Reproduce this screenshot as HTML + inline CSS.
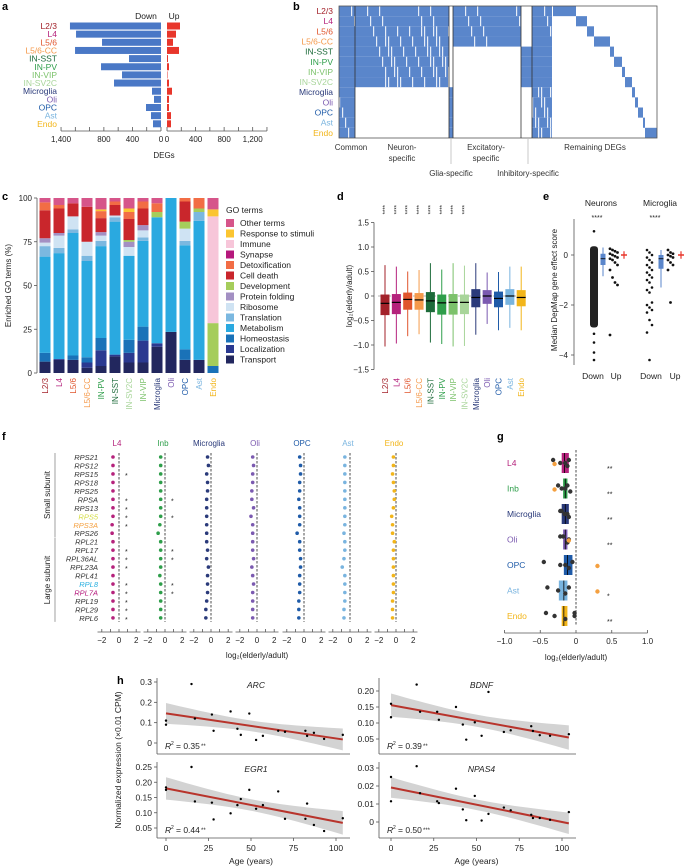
<!DOCTYPE html>
<html><head><meta charset="utf-8"><style>
html,body{margin:0;padding:0;background:#fff}
svg{display:block;font-family:"Liberation Sans",sans-serif}
</style></head><body>
<svg id="fig" width="685" height="867" viewBox="0 0 685 867"></svg>
<script>
// ---------- data ----------
const cellTypesA=['L2/3','L4','L5/6','L5/6-CC','IN-SST','IN-PV','IN-VIP','IN-SV2C','Microglia','Oli','OPC','Ast','Endo'];
const downDEGs=[1275,1190,826,1204,448,840,546,658,126,98,210,140,112];
const upDEGs=[182,126,84,168,14,28,7,28,70,28,28,56,56];
const degTicks=[1400,800,400,0];
const colorOf={'L2/3':'#a3212a','L4':'#b5227c','L5/6':'#e0552d','L5/6-CC':'#f59a4c','IN-SST':'#1d6b3a','IN-PV':'#2e9e4a','IN-VIP':'#7cc26b','IN-SV2C':'#a8d59a','Microglia':'#2a3a7a','Oli':'#7b5ab0','OPC':'#1f5ba8','Ast':'#79b4df','Endo':'#f2b51a','Inb':'#2e9e4a'};
const goCats=['L2/3','L4','L5/6','L5/6-CC','IN-PV','IN-SST','IN-SV2C','IN-VIP','Microglia','Oli','OPC','Ast','Endo'];
const goTerms=['Transport','Localization','Homeostasis','Metabolism','Translation','Ribosome','Protein folding','Development','Cell death','Detoxification','Synapse','Immune','Response to stimuli','Other terms'];
const goColors=['#22275e','#2a3990','#1a72b8','#2aa9e0','#7bb8e0','#cfe3f3','#a390c3','#a5cd5b','#c9262c','#f26d45','#b5187c','#f7c6d9','#fbc531','#d6558a'];
const goValues=[
[6.5,0,5,55,6,2,2.5,0,16,4.5,0,0,0,2.5],
[7.5,0.5,0,60.5,3,7,1.5,0,14,2,0,0,0,4],
[7.5,0,2.5,70,2,7.5,0,0,7.5,0,0,0,0,3],
[3,3,3,55,3,8,0,0,20,0,0,0,0,5],
[4,9,7,52.5,3,3,2,0,8,4,0,0,1,6.5],
[9.5,1,0,76,2.5,1,0,0,6,2,0,0,0,2],
[6,5.5,7.5,48,0,5,3,1,12,4,0,0,2,6],
[6,12.5,8,49,2,4,3,0,9.5,4,0,0,0,2],
[15,2,0,72,0,0,0,3,0,5,0,0,0,3],
[23.5,0,0,76.5,0,0,0,0,0,0,0,0,0,0],
[7.5,0,6,59.5,2.5,7,0,4,11.5,2,0,0,0,0],
[7.5,0,0,79.5,5,0,0,2,0,6,0,0,0,0],
[0,0,4,0,0,0,0,24.5,0,0,0,61,4,6.5]];
const goTicks=[0,25,50,75,100];
const boxMed=[-0.15,-0.13,-0.07,-0.08,-0.1,-0.14,-0.13,-0.13,-0.03,0,-0.05,0,-0.03];
const boxQ1=[-0.39,-0.37,-0.28,-0.28,-0.33,-0.38,-0.38,-0.37,-0.23,-0.16,-0.23,-0.18,-0.21];
const boxQ3=[0.03,0.04,0.07,0.06,0.08,0.03,0.04,0.03,0.14,0.12,0.09,0.14,0.12];
const boxLo=[-1.03,-0.97,-0.82,-0.78,-0.95,-0.98,-1.03,-1.02,-0.79,-0.57,-0.7,-0.65,-0.7];
const boxHi=[0.63,0.6,0.5,0.53,0.67,0.54,0.67,0.62,0.67,0.48,0.49,0.6,0.6];
const boxCats=['L2/3','L4','L5/6','L5/6-CC','IN-SST','IN-PV','IN-VIP','IN-SV2C','Microglia','Oli','OPC','Ast','Endo'];
const dTicks=[1.5,1.0,0.5,0,-0.5,-1.0,-1.5];
const eTicks=[0,-2,-4];
const neuDownOut=[0.95,-3.15,-3.5,-3.9,-4.2];
const neuUpVals=[0.25,0.2,0.15,0.1,0.05,0,-0.05,-0.1,-0.15,-0.2,-0.3,-0.4,-0.6,-0.9,-1.1,-1.2,-3.2];
const micDownVals=[0.2,0.1,0,-0.1,-0.2,-0.3,-0.4,-0.5,-0.6,-0.7,-0.8,-0.9,-1.0,-1.1,-1.3,-1.4,-1.5,-1.9,-2.0,-2.1,-2.2,-2.3,-2.6,-2.8,-3.1,-4.2];
const micUpVals=[0.2,0.1,0.05,0,-0.05,-0.1,-0.2,-0.3,-0.4,-0.6,-1.9];
const genes=['RPS21','RPS12','RPS15','RPS18','RPS25','RPSA','RPS13','RPS5','RPS3A','RPS26','RPL21','RPL17','RPL36AL','RPL23A','RPL41','RPL8','RPL7A','RPL19','RPL29','RPL6'];
const geneColor={'RPS5':'#d5de45','RPS3A':'#f4a040','RPL8':'#2ab0e0','RPL7A':'#b5187c'};
const fCols=['L4','Inb','Microglia','Oli','OPC','Ast','Endo'];
const fL4=[-0.7,-0.7,-0.7,-0.7,-0.7,-0.7,-0.7,-0.7,-0.8,-0.8,-0.7,-0.7,-0.7,-0.7,-0.7,-0.7,-0.7,-0.7,-0.7,-0.7];
const fInb=[-0.5,-0.5,-0.5,-0.5,-0.5,-0.5,-0.5,-0.5,-0.6,-0.8,-0.5,-0.5,-0.5,-0.5,-0.6,-0.5,-0.5,-0.5,-0.5,-0.5];
const fMic=[-0.4,-0.3,-0.5,-0.4,-0.4,-0.5,-0.5,-0.5,-0.5,-0.5,-0.5,-0.4,-0.5,-0.3,-0.4,-0.4,-0.4,-0.5,-0.6,-0.6];
const fOli=[-0.5,-0.4,-0.5,-0.5,-0.6,-0.6,-0.4,-0.7,-0.5,-0.5,-0.5,-0.5,-0.4,-0.6,-0.5,-0.4,-0.5,-0.5,-0.5,-0.5];
const fOPC=[-0.5,-0.4,-0.4,-0.5,-0.5,-0.6,-0.5,-0.5,-0.5,-0.8,-0.5,-0.5,-0.4,-0.4,-0.5,-0.5,-0.5,-0.6,-0.6,-0.6];
const fAst=[-0.6,-0.6,-0.6,-0.6,-0.6,-0.6,-0.6,-0.6,-0.6,-0.7,-0.6,-0.6,-0.7,-0.9,-0.6,-0.6,-0.6,-0.6,-0.7,-0.7];
const fEndo=[-0.3,-0.3,-0.4,-0.3,-0.2,-0.2,-0.3,-0.5,-0.4,-0.4,-0.2,-0.3,-0.3,-0.3,-0.3,-0.3,-0.3,-0.4,-0.4,-0.4];
const fStarsL4=[0,0,1,0,0,1,1,1,1,0,0,1,1,1,0,1,1,1,1,1];
const fStarsInb=[0,0,0,0,0,1,0,1,0,0,0,1,1,0,0,1,1,0,0,0];
const fTicks=[-2,0,2];
const gRows=['L4','Inb','Microglia','Oli','OPC','Ast','Endo'];
const gMed=[-0.16,-0.15,-0.15,-0.15,-0.12,-0.17,-0.17];
const gLo=[-0.2,-0.18,-0.2,-0.18,-0.17,-0.24,-0.2];
const gHi=[-0.1,-0.12,-0.1,-0.12,-0.05,-0.12,-0.12];
const gDots=[[-0.32,-0.22,-0.12,-0.1,-0.15],[-0.25,-0.15,-0.08,-0.12,-0.2],[-0.2,-0.12,-0.1,-0.22,-0.16],[-0.22,-0.1,-0.12,-0.18],[-0.45,-0.22,-0.1,-0.05,-0.15],[-0.4,-0.25,-0.15,-0.1],[-0.42,-0.3,-0.15,-0.02,-0.02]];
const gOrange=[-0.3,-0.3,null,-0.1,0.3,0.3,null];
const gStars=['**','**','**','**','','*','**'];
const gTicks=[-1.0,-0.5,0,0.5,1.0];
const ages=[0,0,15,17,27,28,38,42,44,49,53,57,66,70,82,83,87,93,104];
const arcVals=[0.11,0.09,0.29,0.12,0.14,0.06,0.155,0.07,0.04,0.145,0.015,0.035,0.06,0.055,0.06,0.035,0.05,0.02,0.04];
const bdnfVals=[0.16,0.118,0.22,0.135,0.135,0.11,0.15,0.095,0.048,0.102,0.06,0.197,0.072,0.077,0.09,0.075,0.062,0.06,0.065];
const egr1Vals=[0.183,0.175,0.25,0.137,0.133,0.078,0.098,0.125,0.145,0.175,0.113,0.125,0.17,0.08,0.08,0.13,0.06,0.04,0.082];
const npas4Vals=[0.025,0.0115,0.031,0.016,0.0115,0.0105,0.0185,0.007,0.001,0.0145,0.0008,0.0045,0.008,0.0065,0.004,0.0022,0.0022,0.0012,0.0055];
const ageTicks=[0,25,50,75,100];

// ---------- helpers ----------
const NS='http://www.w3.org/2000/svg';
const svg=document.getElementById('fig');
function mk(tag,attrs,parent){const e=document.createElementNS(NS,tag);for(const k in attrs)e.setAttribute(k,attrs[k]);(parent||svg).appendChild(e);return e;}
function nm(el,n){


return el;}
function tx(s,x,y,o,p){const e=mk('text',Object.assign({x:x,y:y,'font-size':8,fill:'#222'},o||{}),p);e.textContent=s;return e;}
function ln(x1,y1,x2,y2,o,p){return mk('line',Object.assign({x1,y1,x2,y2,stroke:'#555','stroke-width':0.8},o||{}),p);}
function grp(n){const g=mk('g',{});nm(g,n);return g;}

// panel letters
[['a',2,10],['b',293,10],['c',2,200],['d',337,200],['e',543,200],['f',2,440],['g',497,440],['h',117,684]].forEach(l=>{
 const t=tx(l[0],l[1],l[2],{'font-size':11,'font-weight':'bold',fill:'#000'});
 nm(t,'panel-label-'+l[0]);
});

// ---------- panel a ----------
(function(){
 const g=grp('panel-a-deg-bars');
 const xd=v=>161-v*0.0714, xu=v=>167+v*0.0714, ry=i=>26+i*8.15;
 cellTypesA.forEach((c,i)=>{
  const lab=tx(c,57,ry(i)+3,{'text-anchor':'end','font-size':8.5,fill:colorOf[c]},g);
  nm(lab,'row-label-'+c);
  const b=mk('rect',{x:xd(downDEGs[i]),y:ry(i)-3.5,width:downDEGs[i]*0.0714,height:7,fill:'#4a78c6'},g);
  nm(b,'down-bar-'+c);
  const u=mk('rect',{x:xu(0),y:ry(i)-3.5,width:upDEGs[i]*0.0714,height:7,fill:'#e8362b'},g);
  nm(u,'up-bar-'+c);
 });
 nm(ln(xd(1400),131,xd(0),131,{},g),'x-axis-down');
 nm(ln(xu(0),131,xu(1400),131,{},g),'x-axis-up');
 for(let v=0;v<=1400;v+=200){nm(ln(xd(v),131,xd(v),127,{},g),'tick');nm(ln(xu(v),131,xu(v),127,{},g),'tick');}
 degTicks.forEach(v=>{nm(tx(v.toLocaleString('en-US'),xd(v),142,{'text-anchor':'middle'},g),'tick-label');});
 [0,400,800,1200].forEach(v=>{nm(tx(v.toLocaleString('en-US'),xu(v),142,{'text-anchor':'middle'},g),'tick-label');});
 nm(tx('DEGs',164,158,{'text-anchor':'middle'},g),'x-axis-title');
 nm(tx('Down',146,19,{'text-anchor':'middle','font-size':8.5},g),'down-header');
 nm(tx('Up',174,19,{'text-anchor':'middle','font-size':8.5},g),'up-header');
})();

// ---------- panel b heatmap ----------
const bSections=[['Common',339,355],['Neuron',355,449],['Glia',449,453],['Excit',453,521],['Inhib',521,532],['RemainL',532,552]];
const bRowsOn={Common:[0,1,2,3,4,5,6,7,8,9,10,11,12],Neuron:[0,1,2,3,4,5,6,7],Glia:[8,9,10,11,12],Excit:[0,1,2,3],Inhib:[4,5,6,7],RemainL:[0,1,2,3,4,5,6,7,8,9,10,11,12]};
const stairStart=[553,576,587,594,610,614,622,625,632,635,638,643,645];
const stairEnd=[576,587,594,610,614,622,625,632,635,638,643,645,657];
(function(){
 const g=grp('panel-b-heatmap');
 const ry=i=>6+i*10.15;
 cellTypesA.forEach((c,i)=>{nm(tx(c,333,ry(i)+8,{'text-anchor':'end','font-size':8.5,fill:colorOf[c]},g),'row-label-'+c);});
 bSections.forEach(s=>{
  bRowsOn[s[0]].forEach(r=>{
   nm(mk('rect',{x:s[1],y:ry(r),width:s[2]-s[1],height:10.15,fill:'#5a86cb'},g),'cell-'+s[0]+'-'+r);
   const w=s[2]-s[1];
   if(w>10){for(let k=0;k<w;k+=3){const f=((k*7+r*13)%17);
     const thr=(s[0]==='Neuron'&&r>1&&k>w*0.3)?10:(s[0]==='RemainL'&&r>7?8:14);
     if(f>thr){nm(mk('rect',{x:s[1]+k,y:ry(r),width:1.2,height:10.15,fill:'#fff',opacity:0.85},g),'streak');}}}
  });
 });
 stairStart.forEach((x0,r)=>{nm(mk('rect',{x:x0,y:ry(r),width:stairEnd[r]-x0,height:10.15,fill:'#5a86cb'},g),'stair-'+r);});
 nm(mk('rect',{x:339,y:6,width:318,height:132,fill:'none',stroke:'#555','stroke-width':0.8},g),'heatmap-frame');
 [355,449,453,521,532].forEach(x=>nm(ln(x,6,x,138,{stroke:'#333'},g),'section-divider'));
 nm(ln(451,138,451,164,{stroke:'#bbb'},g),'glia-connector');
 nm(ln(528,138,528,164,{stroke:'#bbb'},g),'inhib-connector');
 const o={'text-anchor':'middle','font-size':8,fill:'#333'};
 nm(tx('Common',351,150,o,g),'label-common');
 nm(tx('Neuron-',402,150,o,g),'label-neuron');nm(tx('specific',402,161,o,g),'label-neuron2');
 nm(tx('Excitatory-',486,150,o,g),'label-excit');nm(tx('specific',486,161,o,g),'label-excit2');
 nm(tx('Remaining DEGs',595,150,o,g),'label-remaining');
 nm(tx('Glia-specific',451,176,o,g),'label-glia');
 nm(tx('Inhibitory-specific',528,176,o,g),'label-inhib');
})();

// ---------- panel c ----------
(function(){
 const g=grp('panel-c-go-stacked-bars');
 const y=v=>373-v*1.75, bx=i=>45+i*14;
 nm(ln(37,y(0),37,y(100),{},g),'y-axis');
 goTicks.forEach(v=>{nm(ln(34,y(v),37,y(v),{},g),'tick');nm(tx(v,32,y(v)+3,{'text-anchor':'end'},g),'tick-label');});
 const t=tx('Enriched GO terms (%)',11,y(50),{'text-anchor':'middle',transform:'rotate(-90 11 '+y(50)+')'},g);nm(t,'y-axis-title');
 goCats.forEach((c,i)=>{
  let acc=0;
  goValues[i].forEach((v,k)=>{if(v>0){nm(mk('rect',{x:bx(i)-5.5,y:y(acc+v),width:11,height:v*1.75,fill:goColors[k]},g),'seg-'+c+'-'+goTerms[k]);}acc+=v;});
  const l=tx(c,bx(i)+3,378,{'text-anchor':'end','font-size':8,fill:colorOf[c],transform:'rotate(-90 '+(bx(i)+3)+' 378)'},g);nm(l,'x-label-'+c);
 });
 nm(tx('GO terms',226,213,{'font-size':8.5},g),'legend-title');
 for(let k=goTerms.length-1,j=0;k>=0;k--,j++){
  nm(mk('rect',{x:226,y:219+j*10.5,width:8,height:8,fill:goColors[k]},g),'legend-swatch-'+goTerms[k]);
  nm(tx(goTerms[k],240,226+j*10.5,{'font-size':8.5},g),'legend-entry-'+goTerms[k]);
 }
})();

// ---------- panel d ----------
(function(){
 const g=grp('panel-d-boxplots');
 const y=v=>296-v*49, bx=i=>385+i*11.35;
 nm(ln(374,y(1.5),374,y(-1.5),{},g),'y-axis');
 dTicks.forEach(v=>{nm(ln(371,y(v),374,y(v),{},g),'tick');nm(tx(v===0?'0':(v<0?'\u2212'+Math.abs(v).toFixed(1):v.toFixed(1)),369,y(v)+3,{'text-anchor':'end'},g),'tick-label');});
 const yt=tx('log\u2082(elderly/adult)',352,y(0),{'text-anchor':'middle',transform:'rotate(-90 352 '+y(0)+')'},g);nm(yt,'y-axis-title');
 nm(ln(378,y(0),528,y(0),{stroke:'#999','stroke-dasharray':'3,2'},g),'zero-line');
 boxCats.forEach((c,i)=>{
  const col=colorOf[c];
  nm(ln(bx(i),y(boxHi[i]),bx(i),y(boxLo[i]),{stroke:col,'stroke-width':1},g),'whisker-'+c);
  nm(mk('rect',{x:bx(i)-4.5,y:y(boxQ3[i]),width:9,height:y(boxQ1[i])-y(boxQ3[i]),fill:col},g),'box-'+c);
  nm(ln(bx(i)-4.5,y(boxMed[i]),bx(i)+4.5,y(boxMed[i]),{stroke:'#000','stroke-width':1.2},g),'median-'+c);
  nm(tx(c,bx(i)+3,378,{'text-anchor':'end','font-size':8,fill:col,transform:'rotate(-90 '+(bx(i)+3)+' 378)'},g),'x-label-'+c);
  if(i<8)nm(tx('****',bx(i)+2,205,{'text-anchor':'end','font-size':6,transform:'rotate(-90 '+(bx(i)+2)+' 205)'},g),'sig-'+c);
 });
})();

// ---------- panel e ----------
(function(){
 const g=grp('panel-e-depmap');
 const y=v=>255-v*25;
 nm(ln(574,219,574,365,{},g),'y-axis');
 eTicks.forEach(v=>{nm(ln(571,y(v),574,y(v),{},g),'tick');nm(tx(v<0?'\u2212'+(-v):v,568,y(v)+3,{'text-anchor':'end'},g),'tick-label');});
 nm(tx('Median DepMap gene effect score',557,290,{'text-anchor':'middle',transform:'rotate(-90 557 290)'},g),'y-axis-title');
 nm(tx('Neurons',601,206,{'text-anchor':'middle','font-size':8.5},g),'group-neurons');
 nm(tx('Microglia',660,206,{'text-anchor':'middle','font-size':8.5},g),'group-microglia');
 nm(tx('****',597,220,{'text-anchor':'middle','font-size':7},g),'sig-neurons');
 nm(tx('****',655,220,{'text-anchor':'middle','font-size':7},g),'sig-microglia');
 nm(mk('rect',{x:590,y:y(0.35),width:8,height:y(-2.9)-y(0.35),rx:3,fill:'#222'},g),'neuron-down-dense');
 neuDownOut.forEach(v=>nm(mk('circle',{cx:594,cy:y(v),r:1.3,fill:'#111'},g),'neuron-down-dot'));
 neuUpVals.forEach((v,i)=>nm(mk('circle',{cx:610+(i%4)*2.5,cy:y(v),r:1.4,fill:'#111'},g),'neuron-up-dot'));
 micDownVals.forEach((v,i)=>nm(mk('circle',{cx:647+(i%3)*2.5,cy:y(v),r:1.3,fill:'#111'},g),'microglia-down-dot'));
 micUpVals.forEach((v,i)=>nm(mk('circle',{cx:668+(i%3)*2.5,cy:y(v),r:1.4,fill:'#111'},g),'microglia-up-dot'));
 [[603,0.3,-0.85,-0.4,0.05,-0.15],[661,0.2,-1.3,-0.55,0,-0.15]].forEach((b,i)=>{
  nm(ln(b[0],y(b[1]),b[0],y(b[2]),{stroke:'#5a86cb','stroke-width':1},g),'e-whisker');
  nm(mk('rect',{x:b[0]-2.5,y:y(b[4]),width:5,height:y(b[3])-y(b[4]),fill:'#5a86cb'},g),'e-box');
  nm(ln(b[0]-2.5,y(b[5]),b[0]+2.5,y(b[5]),{stroke:'#000'},g),'e-median');
 });
 [624,681].forEach(x=>{nm(ln(x-3,y(0),x+3,y(0),{stroke:'#e8362b','stroke-width':1.5},g),'up-median');nm(ln(x,y(0.15),x,y(-0.15),{stroke:'#e8362b','stroke-width':1.2},g),'up-range');});
 nm(tx('Down',593,379,{'text-anchor':'middle','font-size':8.5},g),'label-down');
 nm(tx('Up',616,379,{'text-anchor':'middle','font-size':8.5},g),'label-up');
 nm(tx('Down',651,379,{'text-anchor':'middle','font-size':8.5},g),'label-down2');
 nm(tx('Up',675,379,{'text-anchor':'middle','font-size':8.5},g),'label-up2');
})();

// ---------- panel f ----------
(function(){
 const g=grp('panel-f-ribosomal');
 const ry=i=>457+i*8.47;
 const zero=[119,165,211,257,304,350,396];
 const vals=[fL4,fInb,fMic,fOli,fOPC,fAst,fEndo];
 genes.forEach((gn,i)=>nm(tx(gn,98,ry(i)+3,{'text-anchor':'end','font-size':7.5,'font-style':'italic',fill:geneColor[gn]||'#333'},g),'gene-'+gn));
 nm(ln(55,ry(0)-4,55,ry(9)+4,{stroke:'#888'},g),'small-bracket');
 nm(ln(55,ry(10)-4,55,ry(19)+4,{stroke:'#888'},g),'large-bracket');
 nm(tx('Small subunit',50,495,{'text-anchor':'middle','font-size':8,transform:'rotate(-90 50 495)'},g),'small-subunit-label');
 nm(tx('Large subunit',50,580,{'text-anchor':'middle','font-size':8,transform:'rotate(-90 50 580)'},g),'large-subunit-label');
 fCols.forEach((c,j)=>{
  const x=v=>zero[j]+v*8.6;
  nm(tx(c,zero[j]-2,446,{'text-anchor':'middle','font-size':8,fill:colorOf[c]},g),'col-'+c);
  nm(ln(x(0),ry(0)-4,x(0),ry(19)+4,{stroke:'#222','stroke-dasharray':'2.5,1.5'},g),'zero-line-'+c);
  vals[j].forEach((v,i)=>nm(mk('circle',{cx:x(v),cy:ry(i),r:1.8,fill:colorOf[c]},g),'dot-'+c+'-'+genes[i]));
  nm(ln(x(-2.5),632,x(2.5),632,{},g),'x-axis-'+c);
  for(let t=-2;t<=2;t++)nm(ln(x(t),632,x(t),629,{},g),'tick');
  fTicks.forEach(t=>nm(tx(t<0?'\u2212'+(-t):t,x(t),643,{'text-anchor':'middle'},g),'tick-label'));
 });
 genes.forEach((gn,i)=>{
  if(fStarsL4[i])nm(tx('*',125,ry(i)+4,{'font-size':7},g),'star-L4');
  if(fStarsInb[i])nm(tx('*',171,ry(i)+4,{'font-size':7},g),'star-Inb');
 });
 nm(tx('log\u2082(elderly/adult)',257,658,{'text-anchor':'middle'},g),'x-axis-title');
})();

// ---------- panel g ----------
(function(){
 const g=grp('panel-g-summary');
 const x=v=>576+v*71.5, ry=i=>463+i*25.5;
 nm(ln(x(0),450,x(0),626,{stroke:'#222','stroke-dasharray':'2.5,1.5'},g),'zero-line');
 gRows.forEach((c,i)=>{
  nm(tx(c,507,ry(i)+3,{'font-size':8.5,fill:colorOf[c]},g),'row-label-'+c);
  nm(mk('rect',{x:x(gLo[i]),y:ry(i)-10,width:x(gHi[i])-x(gLo[i]),height:20,fill:colorOf[c]},g),'box-'+c);
  nm(ln(x(gMed[i]),ry(i)-10,x(gMed[i]),ry(i)+10,{stroke:'#000'},g),'median-'+c);
  gDots[i].forEach((v,k)=>nm(mk('circle',{cx:x(v),cy:ry(i)+((k%3)-1)*3,r:2.2,fill:'#333'},g),'dot-'+c));
  if(gOrange[i]!==null)nm(mk('circle',{cx:x(gOrange[i]),cy:ry(i)+1,r:2.2,fill:'#f4a040'},g),'orange-dot-'+c);
  if(gStars[i])nm(tx(gStars[i],607,ry(i)+8,{'font-size':7},g),'sig-'+c);
 });
 nm(ln(x(-1),633,x(1),633,{},g),'x-axis');
 gTicks.forEach(t=>{nm(ln(x(t),633,x(t),630,{},g),'tick');nm(tx(t===0?'0':(t<0?'\u2212'+(-t).toFixed(1):t.toFixed(1)),x(t),644,{'text-anchor':'middle'},g),'tick-label');});
 nm(tx('log\u2082(elderly/adult)',576,660,{'text-anchor':'middle'},g),'x-axis-title');
})();

// ---------- panel h ----------
const hPlots=[
 {name:'ARC',vals:arcVals,ax:157,x0:166,x100:336,right:350,top:678,bottom:754,v0:0,v1:0.3,y0:743,y1:682,ticks:[0,0.1,0.2,0.3],dec:1,r2:'0.35',sig:'**',ty:685,ry:747},
 {name:'BDNF',vals:bdnfVals,ax:379,x0:391,x100:562,right:576,top:678,bottom:754,v0:0.05,v1:0.2,y0:739,y1:691,ticks:[0.05,0.10,0.15,0.20],dec:2,r2:'0.39',sig:'**',ty:685,ry:747},
 {name:'EGR1',vals:egr1Vals,ax:157,x0:166,x100:336,right:350,top:762,bottom:838,v0:0.05,v1:0.25,y0:828,y1:767,ticks:[0.05,0.10,0.15,0.20,0.25],dec:2,r2:'0.44',sig:'**',ty:769,ry:831},
 {name:'NPAS4',vals:npas4Vals,ax:379,x0:391,x100:562,right:576,top:762,bottom:838,v0:0,v1:0.03,y0:822,y1:768,ticks:[0,0.01,0.02,0.03],dec:2,r2:'0.50',sig:'***',ty:769,ry:831}];
hPlots.forEach(p=>{
 const g=grp('panel-h-'+p.name);
 const X=a=>p.x0+a*(p.x100-p.x0)/100, Y=v=>p.y0+(v-p.v0)*(p.y1-p.y0)/(p.v1-p.v0);
 const n=ages.length;let mx=0,my=0;ages.forEach((a,i)=>{mx+=a;my+=p.vals[i];});mx/=n;my/=n;
 let sxx=0,sxy=0;ages.forEach((a,i)=>{sxx+=(a-mx)**2;sxy+=(a-mx)*(p.vals[i]-my);});
 const b=sxy/sxx,a0=my-b*mx;let sse=0;ages.forEach((a,i)=>{sse+=(p.vals[i]-a0-b*a)**2;});
 const s=Math.sqrt(sse/(n-2));
 const up=[],lo=[];for(let a=0;a<=104;a+=4){const h=2.1*s*Math.sqrt(1/n+(a-mx)**2/sxx);up.push(X(a)+','+Y(a0+b*a+h));lo.unshift(X(a)+','+Y(a0+b*a-h));}
 nm(mk('polygon',{points:up.concat(lo).join(' '),fill:'#d3d3d3'},g),'confidence-band');
 nm(ln(X(0),Y(a0),X(104),Y(a0+b*104),{stroke:'#b8342c','stroke-width':2},g),'regression-line');
 ages.forEach((a,i)=>nm(mk('circle',{cx:X(a),cy:Y(p.vals[i]),r:1.2,fill:'#000'},g),'point'));
 nm(ln(p.ax,p.top,p.ax,p.bottom,{},g),'y-axis');
 nm(ln(p.ax,p.bottom,p.right,p.bottom,{},g),'x-axis');
 p.ticks.forEach(v=>{nm(ln(p.ax-3,Y(v),p.ax,Y(v),{},g),'tick');nm(tx(v===0?'0':v.toFixed(p.dec),p.ax-5,Y(v)+3,{'text-anchor':'end','font-size':8.5},g),'tick-label');});
 if(p.bottom===838){ageTicks.forEach(t=>{nm(ln(X(t),838,X(t),841,{},g),'tick');nm(tx(t,X(t),851,{'text-anchor':'middle','font-size':8.5},g),'tick-label');});
  nm(tx('Age (years)',(p.x0+p.x100)/2,864,{'text-anchor':'middle','font-size':8.5},g),'x-axis-title');}
 nm(tx(p.name,(p.x0+p.x100)/2+5,p.ty+3,{'text-anchor':'middle','font-size':8.5,'font-style':'italic'},g),'gene-title');
 const bx0=p.ax+8;
 nm(tx('R',bx0,p.ry+2,{'font-size':8.5,'font-style':'italic'},g),'r-squared-symbol');
 nm(tx('2',bx0+6,p.ry-2,{'font-size':5},g),'r-squared-exponent');
 nm(tx('= '+p.r2,bx0+11,p.ry+2,{'font-size':8.5},g),'r-squared-value');
 nm(tx(p.sig,bx0+36,p.ry+1,{'font-size':6},g),'r-squared-significance');
});
(function(){const t=tx('Normalized expression (\u00d70.01 CPM)',121,760,{'text-anchor':'middle','font-size':8.5,transform:'rotate(-90 121 760)'});nm(t,'h-y-axis-title');})();
</script>
</body></html>
